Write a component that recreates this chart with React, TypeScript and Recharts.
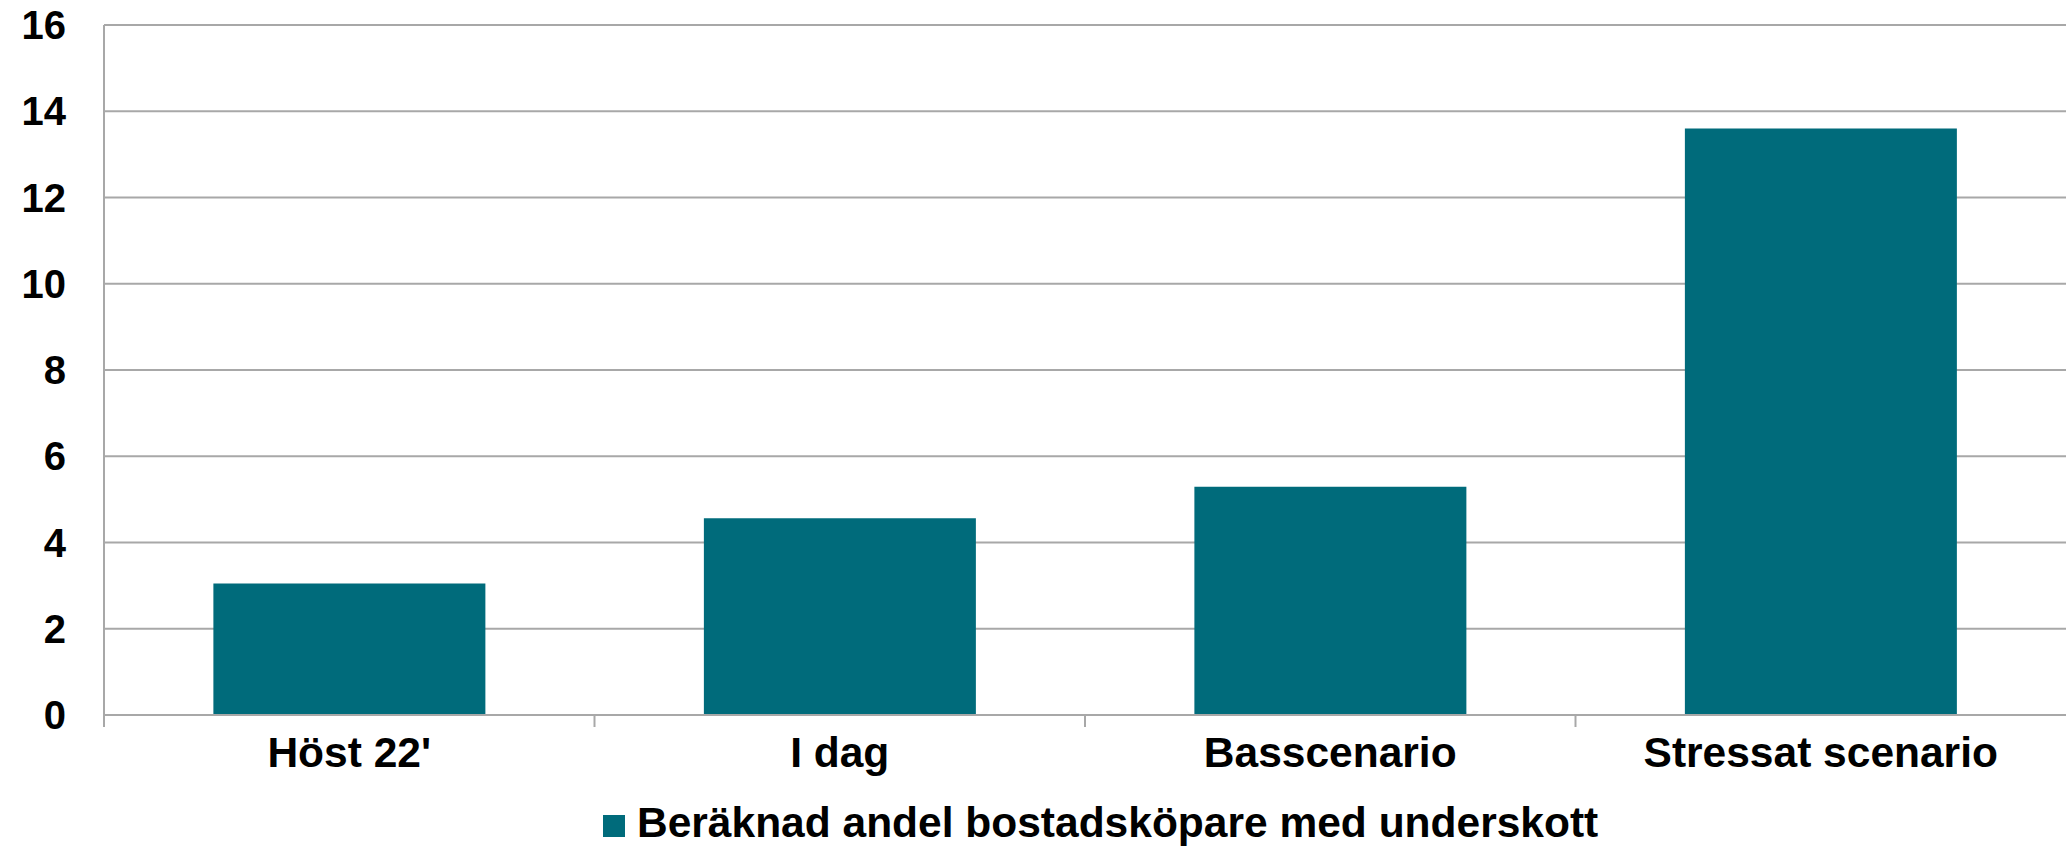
import React from 'react'
import { BarChart, Bar, XAxis, YAxis, CartesianGrid, Legend } from 'recharts'

const categories = ["Höst 22'", 'I dag', 'Basscenario', 'Stressat scenario']
const shareValues = [3.05, 4.56, 5.29, 13.6]
const yTicks = [0, 2, 4, 6, 8, 10, 12, 14, 16]
const seriesName = 'Beräknad andel bostadsköpare med underskott'

const data = categories.map((name, i) => ({ name, value: shareValues[i] }))

const FONT = '"Liberation Sans", Arial, sans-serif'
const GRID = '#a8a8a8'
const TEAL = '#006B7B'

const yTickStyle = { fontFamily: FONT, fontSize: 40, fontWeight: 'bold', fill: '#000' }

// category label plus a tick mark on the left boundary of each category
const CategoryTick = (props: any) => {
  const { x, y, payload } = props
  const half = payload && payload.offset ? payload.offset : 0
  const axisY = y - 22
  return (
    <g>
      <line x1={x - half} x2={x - half} y1={axisY} y2={axisY + 12} stroke={GRID} strokeWidth={2} />
      <text x={x} y={y} dy="0.71em" textAnchor="middle" fontFamily={FONT} fontSize={42.5} fontWeight="bold" fill="#000">
        {payload.value}
      </text>
    </g>
  )
}

const LegendBox = () => (
  <div style={{ height: 63, width: 2067, boxSizing: 'border-box', paddingTop: 17, paddingLeft: 603 }}>
    <span style={{ fontFamily: FONT, fontSize: 42.5, fontWeight: 'bold', lineHeight: '41px', color: '#000', whiteSpace: 'nowrap' }}>
      <span style={{ display: 'inline-block', width: 22, height: 22, background: TEAL, marginRight: 12, verticalAlign: 'baseline' }} />
      {seriesName}
    </span>
  </div>
)

const App = () => {
  return (
    <div style={{ position: 'absolute', left: 0, top: 0 }}>
      <BarChart width={2067} height={848} data={data} margin={{ top: 25, right: 1, bottom: 0, left: 0 }} barCategoryGap="22.3%">
        <CartesianGrid vertical={false} stroke={GRID} strokeWidth={2} />
        <XAxis
          dataKey="name"
          height={70}
          axisLine={{ stroke: GRID, strokeWidth: 2 }}
          tickLine={false}
          tickSize={12}
          tickMargin={10}
          interval={0}
          tick={<CategoryTick />}
        />
        <YAxis
          width={104}
          domain={[0, 16]}
          ticks={yTicks}
          interval={0}
          tickLine={false}
          tickSize={0}
          tickMargin={38}
          axisLine={{ stroke: GRID, strokeWidth: 2 }}
          tick={yTickStyle}
        />
        <Legend verticalAlign="bottom" content={<LegendBox />} wrapperStyle={{ left: 0, width: 2067 }} />
        <Bar dataKey="value" name={seriesName} fill={TEAL} isAnimationActive={false} />
      </BarChart>
    </div>
  )
}

export default App
